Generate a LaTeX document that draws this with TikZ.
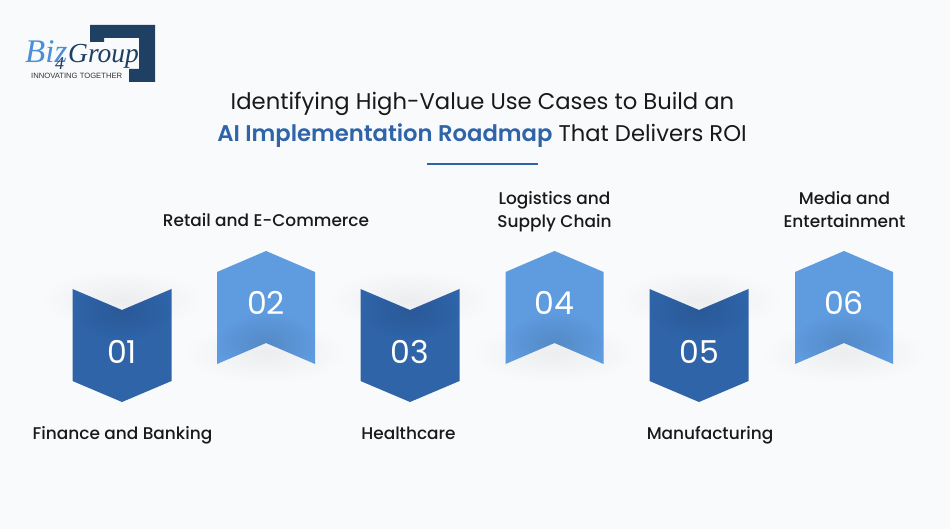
\documentclass[tikz,border=0pt]{standalone}
\usepackage{fontspec}
\usetikzlibrary{fadings}
\setmainfont{Poppins}[BoldFont=* SemiBold]
\newfontfamily\labelfont{Poppins Medium}
\newfontfamily\logofont{Liberation Serif}
\newfontfamily\taglinefont{Liberation Sans}
\definecolor{pagebg}{HTML}{F8FAFC}
\definecolor{darkblue}{HTML}{2F64A9}
\definecolor{lightblue}{HTML}{5F9BDF}
\definecolor{logonavy}{HTML}{1F3F63}
\definecolor{logoblue}{HTML}{4A90D6}
\tikzfading[name=softspot, inner color=transparent!0, outer color=transparent!100]
\tikzset{
	numlabel/.style={text=white, font=\fontsize{31.5}{32}\selectfont, anchor=base},
	sectorlabel/.style={text=black!90, font=\labelfont\fontsize{16.95}{23}\selectfont, align=center, anchor=base},
	titleline/.style={text=black!90, font=\fontsize{22.7}{30}\selectfont, anchor=base},
	outershadow/.style={black, opacity=.05, path fading=softspot},
	innershadow/.style={black, opacity=.11, path fading=softspot},
}
\begin{document}
\begin{tikzpicture}[x=1pt,y=-1pt]
	\useasboundingbox (0,0) rectangle (950,529);
	\fill [pagebg] (0,0) rectangle (950,529);
	% logo
	\fill [logonavy] (90,25) -- (155,25) -- (155,82) -- (129,82) -- (129,69) -- (139,69) -- (139,38) -- (104,38) -- (104,42) -- (90,42) -- cycle;
	\node [anchor=base west, inner sep=0, text=logoblue, font=\logofont\itshape\fontsize{33}{33}\selectfont] (logobiz) at (25,63) {Biz};
	\node [anchor=base west, inner sep=0, text=logonavy, font=\logofont\itshape\fontsize{18}{18}\selectfont] (logofour) at (55,70) {4};
	\node [anchor=base west, inner sep=0, text=logonavy, font=\logofont\itshape\fontsize{27.5}{28}\selectfont] (logogroup) at (68,63) {Group};
	\node [anchor=base west, inner sep=0, text=black!80, font=\taglinefont\fontsize{7.65}{8}\selectfont] (logotag) at (31,79) {INNOVATING TOGETHER};
	% title
	\node [titleline] (titleone) at (482.5,110) {Identifying High-Value Use Cases to Build an};
	\node [titleline] (titletwo) at (482,142) {\textcolor{darkblue}{\bfseries AI Implementation Roadmap} That Delivers ROI};
	\draw [darkblue, line width=1.5] (427,164) -- (538,164);
	% downward pieces
	\foreach \x/\num in {122/01, 410/03, 699/05} {
		\fill [outershadow] (\x,300) ellipse (82 and 30);
		\fill [darkblue] (\x-49.5,289) -- (\x,310) -- (\x+49.5,289) -- (\x+49.5,381) -- (\x,402) -- (\x-49.5,381) -- cycle;
		\begin{scope}
			\clip (\x-49.5,289) -- (\x,310) -- (\x+49.5,289) -- (\x+49.5,381) -- (\x-49.5,381) -- cycle;
			\fill [innershadow] (\x,310) ellipse (50 and 30);
		\end{scope}
		\node [numlabel] (n\num) at (\x,363) {\num};
	}
	% upward pieces
	\foreach \x/\num in {266/02, 554.5/04, 844/06} {
		\fill [outershadow] (\x,353) ellipse (82 and 30);
		\fill [lightblue] (\x-49,272) -- (\x,251) -- (\x+49,272) -- (\x+49,364) -- (\x,343) -- (\x-49,364) -- cycle;
		\begin{scope}
			\clip (\x-49,272) -- (\x+49,272) -- (\x+49,364) -- (\x,343) -- (\x-49,364) -- cycle;
			\fill [innershadow] (\x,343) ellipse (50 and 30);
		\end{scope}
		\node [numlabel] (n\num) at (\x,314) {\num};
	}
	% sector names
	\node [sectorlabel] (finance) at (122.5,439) {Finance and Banking};
	\node [sectorlabel] (retail) at (266,226.5) {Retail and E-Commerce};
	\node [sectorlabel] (health) at (408.5,439) {Healthcare};
	\node [sectorlabel] (logistics) at (554.5,228) {Logistics and\\Supply Chain};
	\node [sectorlabel] (manufacturing) at (710,439) {Manufacturing};
	\node [sectorlabel] (media) at (844.5,228) {Media and\\Entertainment};
\end{tikzpicture}
\end{document}
